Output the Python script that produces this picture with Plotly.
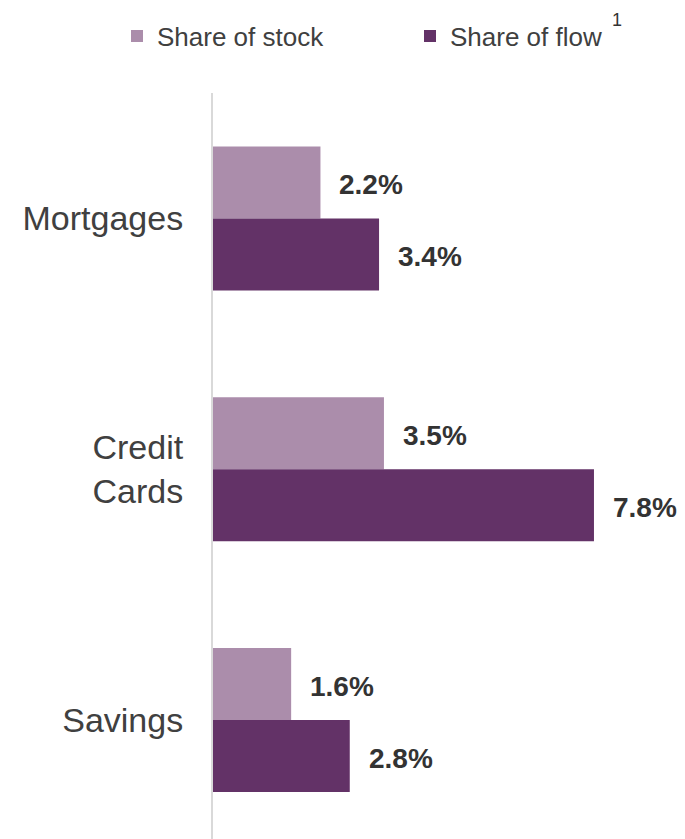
import plotly.graph_objects as go

# Product categories (top to bottom) and the two shares, in percent
categories = ["Mortgages", "Credit<br>Cards", "Savings"]
share_of_stock = [2.2, 3.5, 1.6]
share_of_flow = [3.4, 7.8, 2.8]
series_names = ["Share of stock", "Share of flow"]
series_colors = ["#AB8DAB", "#633267"]

FONT = "Liberation Sans, Arial, sans-serif"
TEXT_COLOR = "#404040"

fig = go.Figure()
for name, values, color, leg in zip(series_names, [share_of_stock, share_of_flow],
                                    series_colors, ["legend", "legend2"]):
    fig.add_trace(go.Bar(
        y=categories,
        x=values,
        name=name,
        orientation="h",
        marker=dict(color=color, line=dict(width=0)),
        hoverinfo="skip",
        legend=leg,
    ))

# Value labels to the right of each bar
for values, yshift in [(share_of_stock, 36), (share_of_flow, -36)]:
    for cat, v in zip(categories, values):
        fig.add_annotation(
            x=v, y=cat, xref="x", yref="y",
            text=f"<b>{v:.1f}%</b>",
            showarrow=False, xanchor="left", yanchor="middle",
            xshift=17, yshift=yshift - 2,
            font=dict(family=FONT, size=28, color="#333333"),
        )

# Footnote marker next to the legend
fig.add_annotation(
    xref="paper", yref="paper",
    x=(617 - 213) / 464, y=1 + (93 - 20) / 746,
    text="1", showarrow=False, xanchor="center", yanchor="middle",
    font=dict(family=FONT, size=18, color="#333333"),
)

legend_style = dict(
    orientation="h",
    xref="container", yref="container",
    y=1 - 36 / 839, xanchor="left", yanchor="middle",
    font=dict(family=FONT, size=26, color=TEXT_COLOR),
    bgcolor="rgba(0,0,0,0)", borderwidth=0,
)

fig.update_layout(
    width=685, height=839,
    margin=dict(l=213, r=8, t=93, b=0, autoexpand=False),
    paper_bgcolor="white", plot_bgcolor="white",
    barmode="group", bargap=0.426, bargroupgap=0,
    font=dict(family=FONT, color=TEXT_COLOR),
    showlegend=True,
    legend=dict(x=117 / 685, **legend_style),
    legend2=dict(x=410 / 685, **legend_style),
    xaxis=dict(range=[0, 9.5], visible=False, fixedrange=True),
    yaxis=dict(
        categoryorder="array", categoryarray=categories,
        range=[2.474, -0.5],
        showline=True, linecolor="#D9D9D9", linewidth=2,
        showgrid=False, zeroline=False, ticks="",
        ticklabelstandoff=21,
        tickfont=dict(family=FONT, size=34, color=TEXT_COLOR),
        fixedrange=True,
    ),
)

fig.write_html("out.html")
